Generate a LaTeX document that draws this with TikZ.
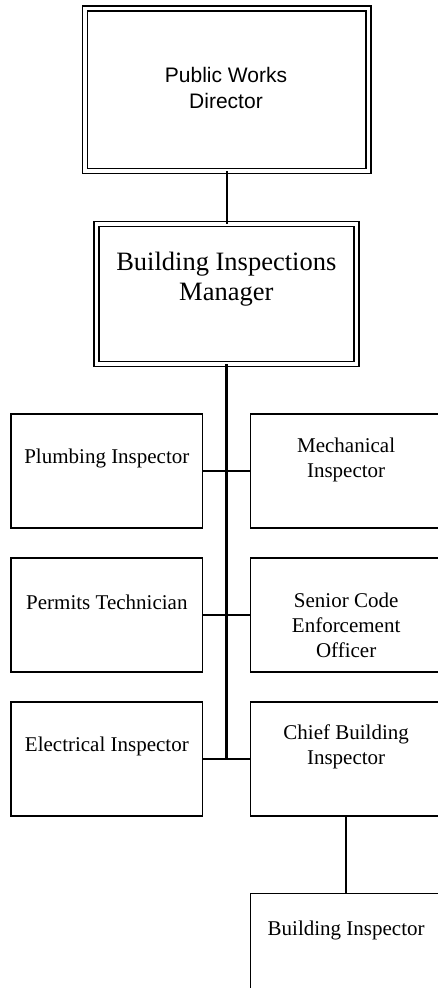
\documentclass[tikz,border=0pt]{standalone}
\usepackage{fontspec}
\setmainfont{Liberation Serif}
\newfontfamily\arialf{Liberation Sans}
\begin{document}
\begin{tikzpicture}[x=1bp,y=-1bp,
  unitbox/.style={draw=black, line width=1.5bp, minimum width=191.7bp,
    minimum height=114bp, inner sep=0pt, outer sep=0pt},
  dblbox/.style={draw=black, line width=1.7bp, double=white,
    double distance=3.3bp, inner sep=0pt, outer sep=0pt},
  lbl/.style={anchor=base, align=center, inner sep=0pt,
    font=\fontsize{21bp}{24.7bp}\selectfont},
  link/.style={draw=black, line width=1.5bp},
  trunk/.style={draw=black, line width=2.7bp}]
\useasboundingbox (0,0) rectangle (438,988);
\clip (0,0) rectangle (438,988);
\fill[white] (0,0) rectangle (438,988);

% director and manager, framed with double lines
\node[dblbox, minimum width=283.5bp, minimum height=162.7bp] (pwd) at (226.75,89.7) {};
\node[dblbox, minimum width=260bp, minimum height=140bp] (bim) at (226.5,294) {};

% staff boxes, two columns
\node[unitbox] (plumb)  at (106.85,471) {};
\node[unitbox] (mech)   at (346.15,471) {};
\node[unitbox] (perm)   at (106.85,615) {};
\node[unitbox] (senior) at (346.15,615) {};
\node[unitbox] (elec)   at (106.85,759) {};
\node[unitbox] (chief)  at (346.15,759) {};
\node[unitbox] (binsp)  at (346.15,950.7) {};

% labels (base anchor sits on the last line's baseline)
\node[anchor=base, align=center, inner sep=0pt,
  font=\arialf\fontsize{21bp}{25.7bp}\selectfont] (tpwd) at (226,108.3)
  {Public Works\\Director};
\node[anchor=base, align=center, inner sep=0pt,
  font=\fontsize{26.5bp}{30.7bp}\selectfont] (tbim) at (226.3,300.7)
  {Building Inspections\\Manager};
\node[lbl] (tplumb)  at (106.85,463.3) {Plumbing Inspector};
\node[lbl] (tmech)   at (346.15,477.3) {Mechanical\\Inspector};
\node[lbl] (tperm)   at (106.85,609)   {Permits Technician};
\node[lbl] (tsenior) at (346.15,657)   {Senior Code\\Enforcement\\Officer};
\node[lbl] (telec)   at (106.85,751.7) {Electrical Inspector};
\node[lbl] (tchief)  at (346.15,764)   {Chief Building\\Inspector};
\node[lbl] (tbinsp)  at (346.15,935)   {Building Inspector};

% reporting lines
\draw[link] (pwd.south) -- (pwd.south |- bim.north);
\draw[trunk] (bim.south) -- (bim.south |- elec.east);
\draw[link] (plumb.east) -- (mech.west);
\draw[link] (perm.east) -- (senior.west);
\draw[link] (elec.east) -- (chief.west);
\draw[link] (chief.south) -- (binsp.north);
\end{tikzpicture}
\end{document}
